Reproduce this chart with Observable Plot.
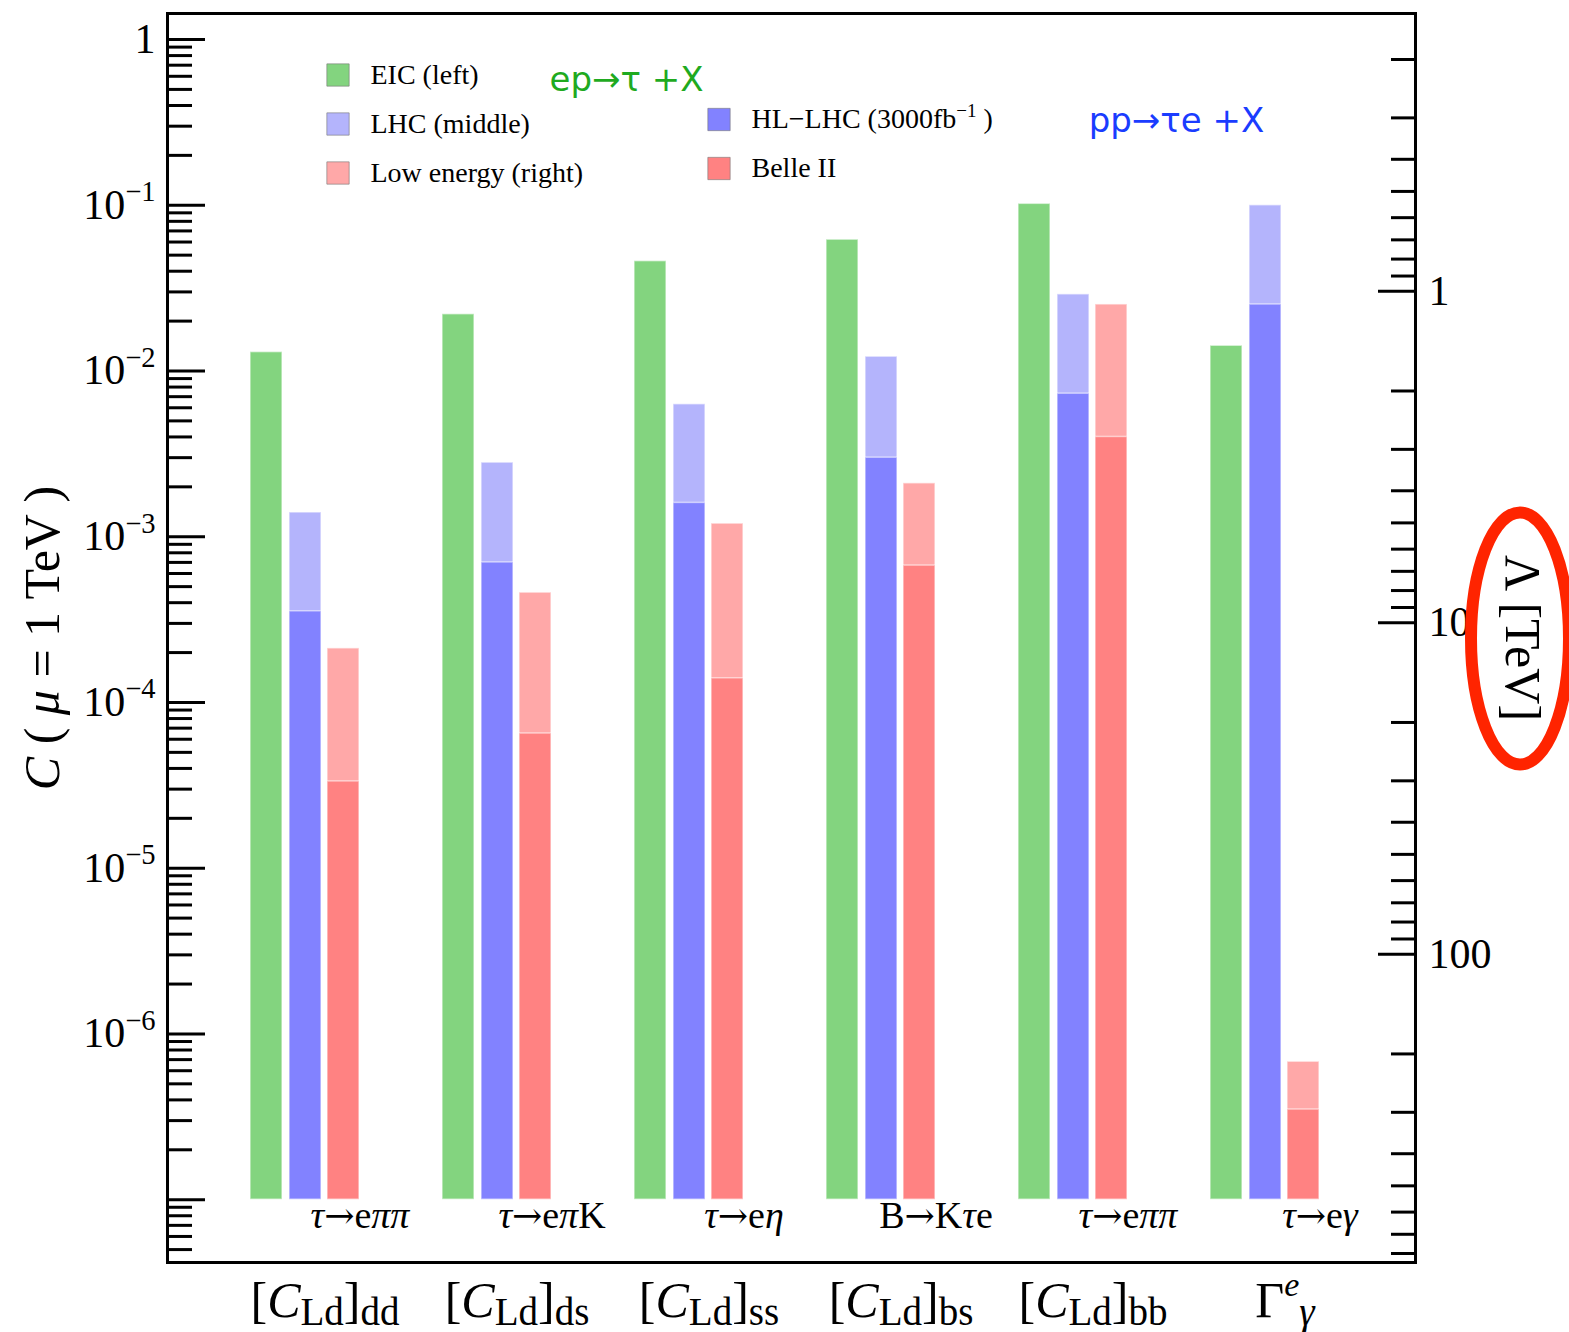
<!DOCTYPE html>
<html>
<head>
<meta charset="utf-8">
<script src="https://cdn.jsdelivr.net/npm/d3@7"></script>
<script src="https://cdn.jsdelivr.net/npm/@observablehq/plot@0.6"></script>
<style>
  html, body { margin: 0; padding: 0; background: white; }
</style>
</head>
<body>
<script>
// ---------------- data ----------------
const groups = ["dd", "ds", "ss", "bs", "bb", "gamma"];
const groupLabels = ["[*C*_{Ld}]_{dd}", "[*C*_{Ld}]_{ds}", "[*C*_{Ld}]_{ss}", "[*C*_{Ld}]_{bs}", "[*C*_{Ld}]_{bb}", "Γ^{*e*}_{*γ*}"];
const processes = ["*τ*→e*ππ*", "*τ*→e*π*K", "*τ*→e*η*", "B→K*τ*e", "*τ*→e*ππ*", "*τ*→e*γ*"];

const eic   = [0.0130, 0.0220, 0.0460, 0.0620, 0.1020, 0.0142];
const lhc   = [1.40e-3, 2.80e-3, 6.30e-3, 1.22e-2, 2.90e-2, 0.100];
const hllhc = [3.55e-4, 7.00e-4, 1.60e-3, 3.00e-3, 7.30e-3, 2.52e-2];
const lowE  = [2.12e-4, 4.60e-4, 1.20e-3, 2.10e-3, 2.52e-2, 6.80e-7];
const belle = [3.34e-5, 6.50e-5, 1.40e-4, 6.70e-4, 4.00e-3, 3.50e-7];

const barFloor = 1e-7;

const leftMajor  = [1, 1e-1, 1e-2, 1e-3, 1e-4, 1e-5, 1e-6, 1e-7];
const leftLabelValues = [1, 1e-1, 1e-2, 1e-3, 1e-4, 1e-5, 1e-6];
const leftLabels = ["1", "10^{−1}", "10^{−2}", "10^{−3}", "10^{−4}", "10^{−5}", "10^{−6}"];

const lambdaMajor  = [1, 10, 100];
const lambdaLabels = ["1", "10", "100"];
const lambdaToC = 0.0303; // C = lambdaToC / Λ²

const legendLeft  = [["EIC (left)", "#83d47f"], ["LHC (middle)", "#b4b4fc"], ["Low energy (right)", "#ffa8a8"]];
const legendRight = [["HL−LHC (3000fb^{−1} )", "#8282ff"], ["Belle II", "#ff8282"]];

const colors = {eic: "#83d47f", lhc: "#b4b4fc", hllhc: "#8282ff", lowE: "#ffa8a8", belle: "#ff8282"};

// ---------------- build ----------------
const rows = groups.map((g, i) => ({
  group: g, label: groupLabels[i], process: processes[i],
  eic: eic[i], lhc: lhc[i], hllhc: hllhc[i], lowE: lowE[i], belle: belle[i]
}));

const W = 1569, H = 1332;
const mL = 167, mR = 154, mT = 13, mB = 70;
const plotW = W - mL - mR;
const yDomain = [Math.pow(10, -7.379), Math.pow(10, 0.157)];
const inDomain = v => v >= yDomain[0] && v <= yDomain[1];

const leftMinor = [];
for (let e = -8; e <= 0; e++) for (let k = 2; k <= 9; k++) { const v = k * Math.pow(10, e); if (inDomain(v)) leftMinor.push(v); }
const lamMinor = [];
for (let e = -1; e <= 2; e++) for (let k = 2; k <= 9; k++) { const L = k * Math.pow(10, e); const c = lambdaToC / (L * L); if (inDomain(c)) lamMinor.push(c); }
const lamMajorC = lambdaMajor.map(L => lambdaToC / (L * L));

const barStyle = {stroke: "white", strokeOpacity: 0.55, strokeWidth: 1.5};
const bar = (key, insetLeft, insetRight) =>
  Plot.barY(rows, {x: "group", y1: () => barFloor, y2: key, fill: colors[key], insetLeft, insetRight, ...barStyle});

const legendMarks = [];
legendLeft.forEach(([name, c], i) => {
  const dy = 61.5 + i * 49;
  legendMarks.push(Plot.dot([name], {frameAnchor: "top-left", dx: 170.5, dy, symbol: "square", r: 12.6, fill: c, stroke: "#777", strokeOpacity: 0.6, strokeWidth: 1}));
  legendMarks.push(Plot.text([name], {frameAnchor: "top-left", dx: 203, dy, text: d => d, textAnchor: "start", lineAnchor: "middle", fontSize: 28}));
});
legendRight.forEach(([name, c], i) => {
  const dy = 106 + i * 49;
  legendMarks.push(Plot.dot([name], {frameAnchor: "top-left", dx: 551.5, dy, symbol: "square", r: 12.6, fill: c, stroke: "#777", strokeOpacity: 0.6, strokeWidth: 1}));
  legendMarks.push(Plot.text([name], {frameAnchor: "top-left", dx: 584, dy, text: d => d, textAnchor: "start", lineAnchor: "middle", fontSize: 28}));
});

const plot = Plot.plot({
  width: W, height: H,
  marginLeft: mL, marginRight: mR, marginTop: mT, marginBottom: mB,
  style: {fontFamily: "'Liberation Serif', 'Times New Roman', serif", background: "white", overflow: "visible", color: "black"},
  x: {type: "band", domain: groups, range: [248, 1321], paddingInner: 0.43, paddingOuter: 0, axis: null},
  y: {type: "log", domain: yDomain, axis: null},
  marks: [
    bar("eic", 0, 77),
    bar("lhc", 39, 38),
    bar("hllhc", 39, 38),
    bar("lowE", 77, 0),
    bar("belle", 77, 0),
    // left axis ticks
    Plot.ruleY(leftMajor, {y: d => d, insetRight: plotW - 38, stroke: "black", strokeWidth: 3}),
    Plot.ruleY(leftMinor, {y: d => d, insetRight: plotW - 25, stroke: "black", strokeWidth: 3}),
    // right axis ticks (Λ)
    Plot.ruleY(lamMajorC, {y: d => d, insetLeft: plotW - 37, stroke: "black", strokeWidth: 3}),
    Plot.ruleY(lamMinor, {y: d => d, insetLeft: plotW - 24, stroke: "black", strokeWidth: 3}),
    Plot.frame({stroke: "black", strokeWidth: 3}),
    // tick labels
    Plot.text(leftLabelValues, {y: d => d, text: (d, i) => leftLabels[i], frameAnchor: "left", textAnchor: "end", lineAnchor: "middle", dx: -12, fontSize: 42}),
    Plot.text(lamMajorC, {y: d => d, text: (d, i) => lambdaLabels[i], frameAnchor: "right", textAnchor: "start", lineAnchor: "middle", dx: 13, fontSize: 42}),
    // axis titles
    Plot.text(["*C* ( *μ* = 1 TeV )"], {frameAnchor: "left", dx: -125, rotate: -90, text: d => d, textAnchor: "middle", lineAnchor: "middle", fontSize: 50}),
    Plot.text(["Λ [TeV]"], {frameAnchor: "right", dx: 106, rotate: 90, text: d => d, textAnchor: "middle", lineAnchor: "middle", fontSize: 50}),
    // category labels
    Plot.text(rows, {x: "group", text: "label", frameAnchor: "bottom", dy: 38, dx: 20, textAnchor: "middle", lineAnchor: "middle", fontSize: 50}),
    Plot.text(rows, {x: "group", text: "process", frameAnchor: "bottom", dy: -47, dx: 55, textAnchor: "middle", lineAnchor: "middle", fontSize: 38}),
    // legend
    ...legendMarks,
    Plot.text(["ep→τ +X"], {frameAnchor: "top-left", dx: 459, dy: 67, text: d => d, textAnchor: "middle", lineAnchor: "middle", fill: "#1faa1f", fontSize: 34, fontFamily: "'DejaVu Sans', sans-serif"}),
    Plot.text(["pp→τe +X"], {frameAnchor: "top-left", dx: 1009, dy: 108, text: d => d, textAnchor: "middle", lineAnchor: "middle", fill: "#1a3cff", fontSize: 34, fontFamily: "'DejaVu Sans', sans-serif"})
  ]
});

document.body.append(plot);

// ---------------- rich text (italic / sub / sup) ----------------
function parseMarkup(s) {
  const out = [];
  let italic = false;
  function rec(str, level) {
    let i = 0, buf = "";
    const flush = () => { if (buf) { out.push({text: buf, italic, level}); buf = ""; } };
    while (i < str.length) {
      const c = str[i];
      if (c === "*") { flush(); italic = !italic; i++; }
      else if (c === "→") { flush(); out.push({text: c, italic: false, level, arrow: true}); i++; }
      else if ((c === "^" || c === "_") && str[i + 1] === "{") {
        flush();
        let depth = 1, j = i + 2;
        while (j < str.length && depth) { if (str[j] === "{") depth++; else if (str[j] === "}") depth--; j++; }
        rec(str.slice(i + 2, j - 1), c === "^" ? 1 : -1);
        i = j;
      } else { buf += c; i++; }
    }
    flush();
  }
  rec(s, 0);
  return out;
}
function richify(svg) {
  svg.querySelectorAll("text").forEach(t => {
    const s = t.textContent;
    const serif = /Liberation Serif/.test(getComputedStyle(t).fontFamily);
    if (!/[\*\^_]/.test(s) && !(serif && s.includes("→"))) return;
    const base = parseFloat(getComputedStyle(t).fontSize);
    const segs = parseMarkup(s);
    while (t.firstChild) t.removeChild(t.firstChild);
    let cur = 0;
    for (const seg of segs) {
      const ts = document.createElementNS("http://www.w3.org/2000/svg", "tspan");
      const scale = seg.level === 0 ? 1 : seg.level === 1 ? 0.68 : 0.78;
      const target = seg.level === 1 ? -0.42 * base : seg.level === -1 ? 0.16 * base : 0;
      if (target !== cur) ts.setAttribute("dy", (target - cur).toFixed(2));
      cur = target;
      if (scale !== 1) ts.setAttribute("font-size", (base * scale).toFixed(2));
      if (seg.italic) ts.setAttribute("font-style", "italic");
      if (seg.arrow && serif) { ts.setAttribute("font-family", "'DejaVu Serif', serif"); ts.setAttribute("font-size", (base * scale * 0.95).toFixed(2)); }
      ts.textContent = seg.text;
      t.appendChild(ts);
    }
  });
}
richify(plot);

// ---------------- annotation: red ellipse around right axis title ----------------
d3.select(plot).append("ellipse")
  .attr("cx", W - mR + 105)
  .attr("cy", (mT + H - mB) / 2 + 1)
  .attr("rx", 49).attr("ry", 126)
  .attr("fill", "none").attr("stroke", "#ff2400").attr("stroke-width", 12);
</script>
</body>
</html>
